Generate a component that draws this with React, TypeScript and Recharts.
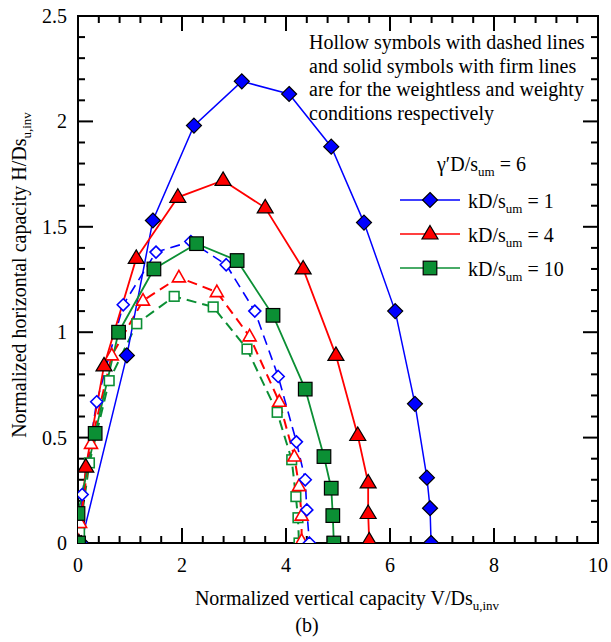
import React from 'react';
import { LineChart, Line, XAxis, YAxis } from 'recharts';

// ---------- data ----------
// kD/s_um = 1, weighty (solid diamonds, firm line)
const vK1Weighty = [0.06, 0.94, 1.44, 2.23, 3.15, 4.06, 4.87, 5.5, 6.1, 6.48, 6.71, 6.77, 6.79];
const hK1Weighty = [0.0, 0.89, 1.53, 1.98, 2.19, 2.13, 1.88, 1.52, 1.1, 0.66, 0.31, 0.165, 0.0];
// kD/s_um = 4, weighty
const vK4Weighty = [0.02, 0.15, 0.5, 1.12, 1.92, 2.79, 3.6, 4.33, 4.96, 5.38, 5.58, 5.58, 5.6];
const hK4Weighty = [0.0, 0.36, 0.84, 1.35, 1.64, 1.72, 1.59, 1.3, 0.89, 0.51, 0.285, 0.14, 0.01];
// kD/s_um = 10, weighty
const vK10Weighty = [0.01, 0.0, 0.33, 0.78, 1.46, 2.28, 3.06, 3.75, 4.37, 4.73, 4.87, 4.9, 4.92];
const hK10Weighty = [0.0, 0.14, 0.52, 1.0, 1.3, 1.42, 1.34, 1.08, 0.73, 0.41, 0.26, 0.13, 0.0];
// weightless (hollow symbols, dashed lines)
const vK1Weightless = [0.03, 0.08, 0.36, 0.87, 1.5, 2.17, 2.85, 3.4, 3.85, 4.2, 4.37, 4.4, 4.45];
const hK1Weightless = [0.0, 0.23, 0.67, 1.13, 1.38, 1.43, 1.32, 1.1, 0.79, 0.48, 0.3, 0.157, 0.0];
const vK4Weightless = [0.0, 0.04, 0.25, 0.65, 1.25, 1.94, 2.67, 3.3, 3.87, 4.16, 4.25, 4.3, 4.3];
const hK4Weightless = [0.01, 0.095, 0.47, 0.89, 1.15, 1.26, 1.19, 0.98, 0.67, 0.41, 0.27, 0.13, 0.01];
const vK10Weightless = [0.01, 0.03, 0.22, 0.6, 1.13, 1.85, 2.6, 3.25, 3.83, 4.11, 4.19, 4.23, 4.25];
const hK10Weightless = [0.0, 0.05, 0.38, 0.77, 1.04, 1.17, 1.12, 0.92, 0.62, 0.395, 0.22, 0.12, 0.0];

const xTickValues = [0, 0.4, 0.8, 1.2, 1.6, 2, 2.4, 2.8, 3.2, 3.6, 4, 4.4, 4.8, 5.2, 5.6, 6, 6.4, 6.8, 7.2, 7.6, 8, 8.4, 8.8, 9.2, 9.6, 10];
const xTickLabels = [0, 2, 4, 6, 8, 10];
const yTickValues = [0, 0.1, 0.2, 0.3, 0.4, 0.5, 0.6, 0.7, 0.8, 0.9, 1, 1.1, 1.2, 1.3, 1.4, 1.5, 1.6, 1.7, 1.8, 1.9, 2, 2.1, 2.2, 2.3, 2.4, 2.5];
const yTickLabels = [0, 0.5, 1, 1.5, 2, 2.5];
const xDomain = [0, 10];
const yDomain = [0, 2.5];

const legendValues = ['1', '4', '10'];
const noteLines = [
  'Hollow symbols with dashed lines',
  'and solid symbols with firm lines',
  'are for the weightless and weighty',
  'conditions respectively',
];

// ---------- layout / style ----------
const W = 611;
const H = 642;
const PL = 78;
const PT = 16;
const PR = 598;
const PB = 543;
const FONT = "'Liberation Serif', 'Times New Roman', serif";
const BLUE = '#0000ff';
const RED = '#ff0000';
const GREEN = '#0b8f34';
const INK = '#000000';
const TICK_W = 2;
const MAJOR = 15;
const MINOR = 7;

const zip = (v: number[], h: number[]) => v.map((x, i) => ({ v: x, h: h[i] }));
const px = (v: number) => PL + ((v - xDomain[0]) / (xDomain[1] - xDomain[0])) * (PR - PL);
const py = (v: number) => PB - ((v - yDomain[0]) / (yDomain[1] - yDomain[0])) * (PB - PT);

type Shape = 'diamond' | 'triangle' | 'square';

const Marker = ({ shape, cx, cy, color, hollow }: { shape: Shape; cx: number; cy: number; color: string; hollow: boolean }) => {
  const fill = hollow ? '#ffffff' : color;
  const stroke = hollow ? color : '#000000';
  const sw = hollow ? 1.6 : 1.2;
  if (shape === 'diamond') {
    const r = hollow ? 6 : 7.5;
    return <polygon points={`${cx},${cy - r} ${cx + r},${cy} ${cx},${cy + r} ${cx - r},${cy}`} fill={fill} stroke={stroke} strokeWidth={sw} />;
  }
  if (shape === 'triangle') {
    const w = hollow ? 6.5 : 8;
    const t = hollow ? 7 : 8.5;
    const b = hollow ? 4.5 : 5;
    return <polygon points={`${cx},${cy - t} ${cx + w},${cy + b} ${cx - w},${cy + b}`} fill={fill} stroke={stroke} strokeWidth={sw} strokeLinejoin="miter" />;
  }
  const s = hollow ? 4.8 : 6.8;
  return <rect x={cx - s} y={cy - s} width={2 * s} height={2 * s} fill={fill} stroke={stroke} strokeWidth={sw} />;
};

const makeDot = (id: string, shape: Shape, color: string, hollow: boolean) => (props: any) => {
  const { cx, cy, index } = props;
  if (cx == null || cy == null) return <g key={`${id}-${index}`} />;
  return (
    <g key={`${id}-${index}`}>
      <Marker shape={shape} cx={cx} cy={cy} color={color} hollow={hollow} />
    </g>
  );
};

// axis tick labels (tick marks are drawn by the frame below)
const BottomTick = (props: any) => {
  const { x, y, payload } = props;
  if (!xTickLabels.includes(payload.value)) return <g />;
  return (
    <text x={x} y={y + 29} textAnchor="middle" fontSize={20} fontFamily={FONT} fill="#000">
      {payload.value}
    </text>
  );
};
const LeftTick = (props: any) => {
  const { x, y, payload } = props;
  if (!yTickLabels.includes(payload.value)) return <g />;
  return (
    <text x={x - 11} y={y + 7} textAnchor="end" fontSize={20} fontFamily={FONT} fill="#000">
      {String(payload.value)}
    </text>
  );
};

// plot frame with inward ticks on all four sides
const Frame = () => (
  <g>
    <rect x={PL} y={PT} width={PR - PL} height={PB - PT} fill="none" stroke={INK} strokeWidth={2} />
    {xTickValues.map((v) => {
      const len = xTickLabels.includes(v) ? MAJOR : MINOR;
      const x = px(v);
      return (
        <g key={`xt-${v}`}>
          <line x1={x} y1={PB} x2={x} y2={PB - len} stroke={INK} strokeWidth={TICK_W} />
          <line x1={x} y1={PT} x2={x} y2={PT + len} stroke={INK} strokeWidth={TICK_W} />
        </g>
      );
    })}
    {yTickValues.map((v) => {
      const len = yTickLabels.includes(v) ? MAJOR : MINOR;
      const y = py(v);
      return (
        <g key={`yt-${v}`}>
          <line x1={PL} y1={y} x2={PL + len} y2={y} stroke={INK} strokeWidth={TICK_W} />
          <line x1={PR} y1={y} x2={PR - len} y2={y} stroke={INK} strokeWidth={TICK_W} />
        </g>
      );
    })}
  </g>
);

const Titles = () => (
  <g fontFamily={FONT} fontSize={20} fill="#000">
    <text x={347} y={605} textAnchor="middle">
      Normalized vertical capacity V/Ds
      <tspan fontSize={13} dy={5}>u,inv</tspan>
    </text>
    <text x={307} y={632} textAnchor="middle">
      (b)
    </text>
    <text x={26} y={275} transform="rotate(-90 26 275)" textAnchor="middle">
      Normalized horizontal capacity H/Ds
      <tspan fontSize={13} dy={5}>u,inv</tspan>
    </text>
  </g>
);

const legendShapes: Shape[] = ['diamond', 'triangle', 'square'];
const legendColors = [BLUE, RED, GREEN];

const LegendSvg = () => (
  <g fontFamily={FONT} fontSize={20} fill="#000">
    {noteLines.map((l, i) => (
      <text key={l} x={309} y={49 + i * 23.7}>
        {l}
      </text>
    ))}
    <text x={437} y={171}>
      γ′D/s
      <tspan fontSize={13} dy={5}>um</tspan>
      <tspan dy={-5}>{' = 6'}</tspan>
    </text>
    {legendValues.map((val, i) => {
      const cy = 200 + i * 34;
      return (
        <g key={val}>
          <line x1={400} y1={cy} x2={460} y2={cy} stroke={legendColors[i]} strokeWidth={1.5} />
          <Marker shape={legendShapes[i]} cx={430} cy={cy} color={legendColors[i]} hollow={false} />
          <text x={468} y={cy + 8}>
            kD/s
            <tspan fontSize={13} dy={5}>um</tspan>
            <tspan dy={-5}>{` = ${val}`}</tspan>
          </text>
        </g>
      );
    })}
  </g>
);

const lineCommon = {
  type: 'linear' as const,
  dataKey: 'h',
  activeDot: false,
  isAnimationActive: false,
  legendType: 'none' as const,
};

export default function App() {
  return (
    <div style={{ position: 'absolute', left: 0, top: 0, width: W, height: H, background: '#fff' }}>
      <LineChart width={W} height={H} margin={{ top: PT, right: W - PR, bottom: H - PB - 1, left: PL - 1 }}>
        <XAxis
          dataKey="v"
          type="number"
          domain={xDomain}
          ticks={xTickValues}
          interval={0}
          height={1}
          tickSize={0}
          tickMargin={0}
          tick={BottomTick}
          axisLine={false}
          tickLine={false}
          allowDataOverflow
        />
        <YAxis
          type="number"
          domain={yDomain}
          ticks={yTickValues}
          interval={0}
          width={1}
          tickSize={0}
          tickMargin={0}
          tick={LeftTick}
          axisLine={false}
          tickLine={false}
          allowDataOverflow
        />
        <Frame />
        <Titles />
        {/* weightless: hollow symbols, dashed lines */}
        <Line {...lineCommon} name="k10-weightless" data={zip(vK10Weightless, hK10Weightless)} stroke={GREEN} strokeWidth={2} strokeDasharray="10 6" dot={makeDot('k10wl', 'square', GREEN, true)} />
        <Line {...lineCommon} name="k4-weightless" data={zip(vK4Weightless, hK4Weightless)} stroke={RED} strokeWidth={2} strokeDasharray="10 6" dot={makeDot('k4wl', 'triangle', RED, true)} />
        <Line {...lineCommon} name="k1-weightless" data={zip(vK1Weightless, hK1Weightless)} stroke={BLUE} strokeWidth={1.6} strokeDasharray="10 6" dot={makeDot('k1wl', 'diamond', BLUE, true)} />
        {/* weighty: solid symbols, firm lines */}
        <Line {...lineCommon} name="k1-weighty" data={zip(vK1Weighty, hK1Weighty)} stroke={BLUE} strokeWidth={1.5} dot={makeDot('k1w', 'diamond', BLUE, false)} />
        <Line {...lineCommon} name="k4-weighty" data={zip(vK4Weighty, hK4Weighty)} stroke={RED} strokeWidth={1.8} dot={makeDot('k4w', 'triangle', RED, false)} />
        <Line {...lineCommon} name="k10-weighty" data={zip(vK10Weighty, hK10Weighty)} stroke={GREEN} strokeWidth={1.8} dot={makeDot('k10w', 'square', GREEN, false)} />
        <LegendSvg />
      </LineChart>
    </div>
  );
}
